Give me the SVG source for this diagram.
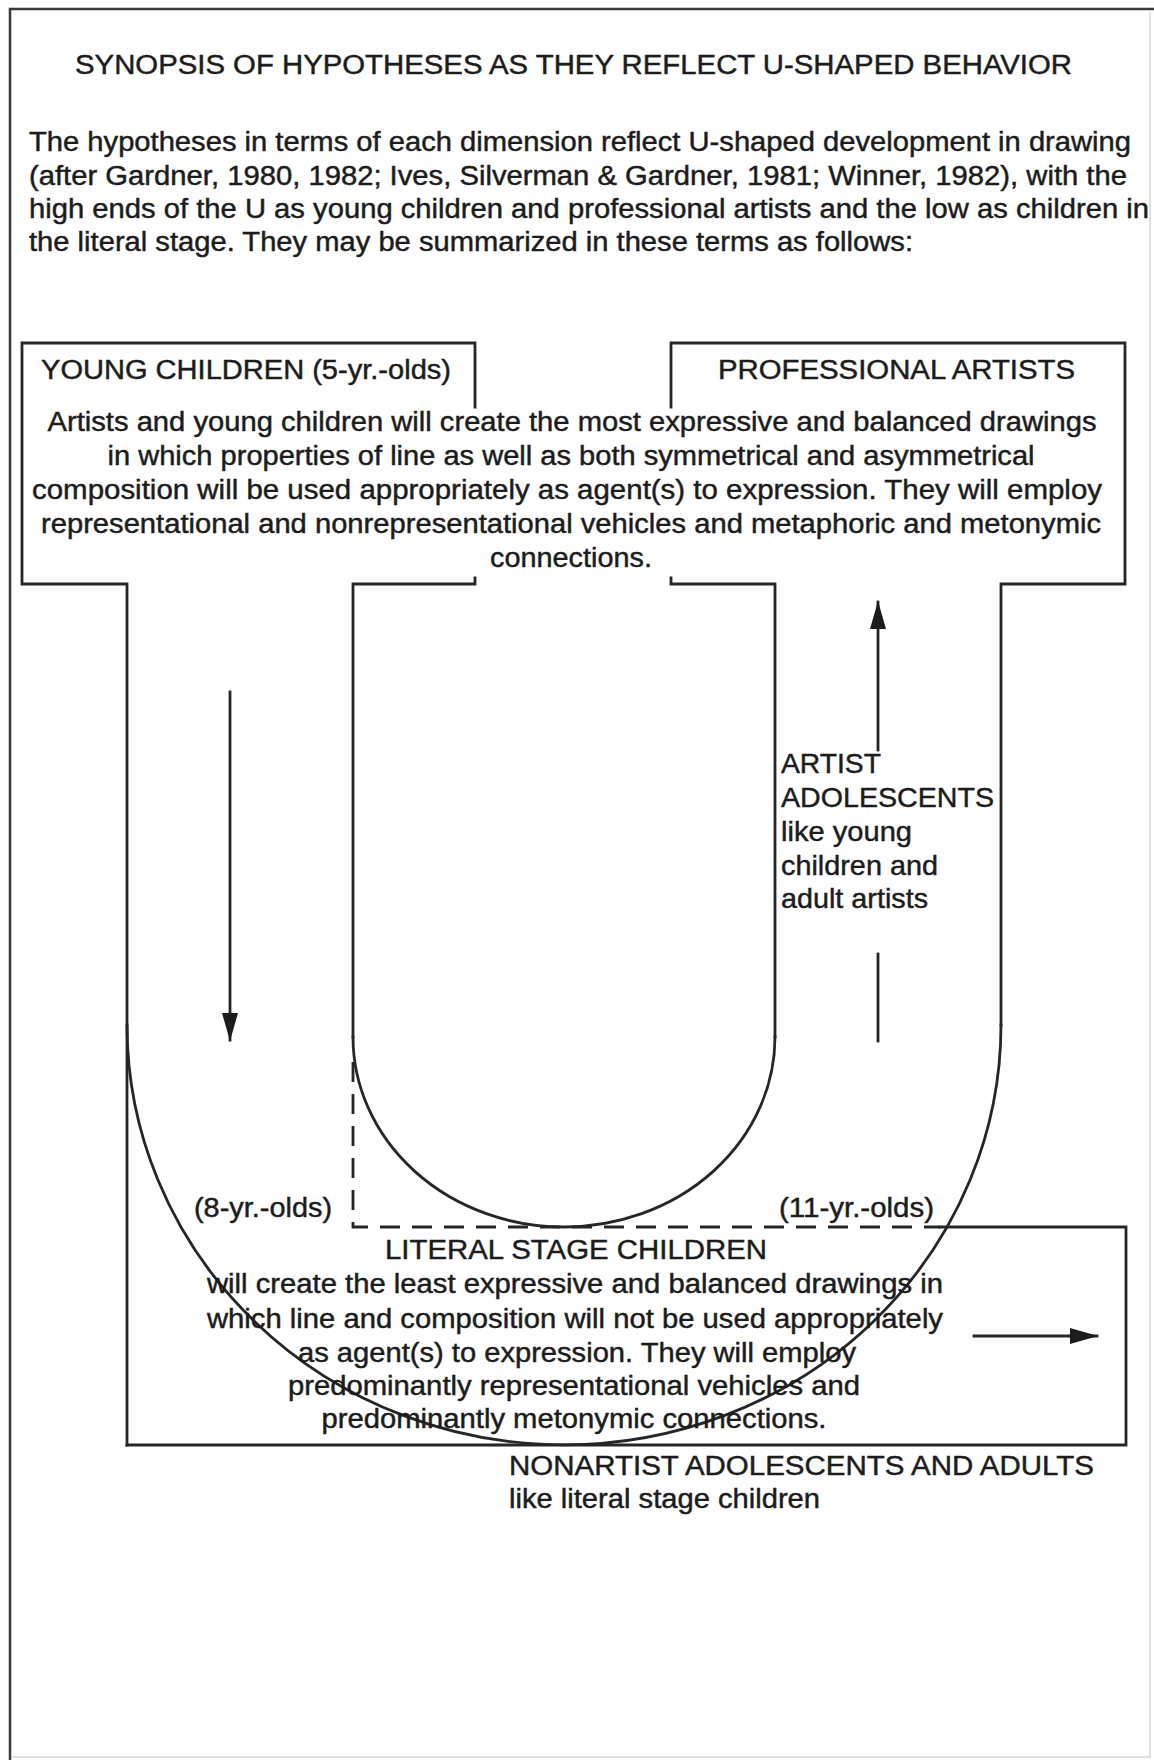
<svg xmlns="http://www.w3.org/2000/svg" width="1154" height="1760" viewBox="0 0 1154 1760">
<style>
  .ln { fill: none; stroke: #262626; stroke-width: 2.8; stroke-linecap: square; stroke-linejoin: miter; }
  .dash { fill: none; stroke: #262626; stroke-width: 2.8; stroke-dasharray: 20 12; }
  .frame { fill: none; stroke: #3a3a3a; stroke-width: 2.5; }
  .faint { fill: none; stroke: #d8d8d8; stroke-width: 1.5; }
  .t { font-family: "Liberation Sans", Arial, Helvetica, sans-serif; font-size: 27px; fill: #1c1c1c; stroke: #1c1c1c; stroke-width: 0.45; }
  .m { text-anchor: middle; }
  .a { font-size: 28px; }
</style>
<defs>
  <marker id="head" markerUnits="userSpaceOnUse" viewBox="0 0 28 16" refX="27" refY="8" markerWidth="28" markerHeight="16" orient="auto">
    <path d="M0,0 L28,8 L0,16 z" fill="#1c1c1c"/>
  </marker>
</defs>
<rect width="1154" height="1760" fill="#ffffff"/>

<g id="frame">
  <path class="frame" d="M10,1760 L10,9 L1154,9"/>
  <path class="faint" d="M1150,12 L1150,1757 L12,1757"/>
</g>

<g id="title">
  <text class="t" x="75" y="74" textLength="997" lengthAdjust="spacingAndGlyphs">SYNOPSIS OF HYPOTHESES AS THEY REFLECT U-SHAPED BEHAVIOR</text>
</g>

<g id="intro">
  <text class="t" x="29" y="151" textLength="1102" lengthAdjust="spacingAndGlyphs">The hypotheses in terms of each dimension reflect U-shaped development in drawing</text>
  <text class="t" x="29" y="185" textLength="1098" lengthAdjust="spacingAndGlyphs">(after Gardner, 1980, 1982; Ives, Silverman &amp; Gardner, 1981; Winner, 1982), with the</text>
  <text class="t" x="29" y="218" textLength="1120" lengthAdjust="spacingAndGlyphs">high ends of the U as young children and professional artists and the low as children in</text>
  <text class="t" x="29" y="251" textLength="884" lengthAdjust="spacingAndGlyphs">the literal stage. They may be summarized in these terms as follows:</text>
</g>

<g id="u-shape">
  <!-- young children box + outer left wall -->
  <path class="ln" d="M127,1445 L127,584 L22,584 L22,343 L475,343 L475,407"/>
  <!-- inner left wall with box bottom segment -->
  <path class="ln" d="M353,1037 L353,584 L475,584 L475,578"/>
  <!-- professional artists box + outer right wall -->
  <path class="ln" d="M671,407 L671,343 L1125,343 L1125,584 L1001,584 L1001,1025"/>
  <!-- inner right wall with box bottom segment -->
  <path class="ln" d="M671,578 L671,584 L775,584 L775,1037"/>
  <!-- outer arc -->
  <path class="ln" d="M127,1025 A437,420 0 0 0 1001,1025"/>
  <!-- inner arc -->
  <path class="ln" d="M353,1037 A211,190 0 0 0 775,1037"/>
  <!-- dashed literal-stage boundary -->
  <path class="dash" d="M353,1062 L353,1227 L940,1227"/>
  <!-- literal stage box -->
  <path class="ln" d="M940,1227 L1126,1227 L1126,1445 L127,1445"/>
</g>

<g id="young-children">
  <text class="t" x="41" y="379" textLength="410" lengthAdjust="spacingAndGlyphs">YOUNG CHILDREN (5-yr.-olds)</text>
</g>

<g id="professional-artists">
  <text class="t" x="718" y="379" textLength="357" lengthAdjust="spacingAndGlyphs">PROFESSIONAL ARTISTS</text>
</g>

<g id="shared-description">
  <text class="t m" x="572" y="431" textLength="1049" lengthAdjust="spacingAndGlyphs">Artists and young children will create the most expressive and balanced drawings</text>
  <text class="t m" x="571" y="465" textLength="927" lengthAdjust="spacingAndGlyphs">in which properties of line as well as both symmetrical and asymmetrical</text>
  <text class="t m" x="567" y="499" textLength="1070" lengthAdjust="spacingAndGlyphs">composition will be used appropriately as agent(s) to expression. They will employ</text>
  <text class="t m" x="571" y="533" textLength="1060" lengthAdjust="spacingAndGlyphs">representational and nonrepresentational vehicles and metaphoric and metonymic</text>
  <text class="t m" x="571" y="567" textLength="162" lengthAdjust="spacingAndGlyphs">connections.</text>
</g>

<g id="eight-year-olds">
  <text class="t" x="194" y="1217" textLength="138" lengthAdjust="spacingAndGlyphs">(8-yr.-olds)</text>
</g>

<g id="eleven-year-olds">
  <text class="t" x="779" y="1217" textLength="155" lengthAdjust="spacingAndGlyphs">(11-yr.-olds)</text>
</g>

<g id="artist-adolescents">
  <text class="t a" x="781" y="773" textLength="100" lengthAdjust="spacingAndGlyphs">ARTIST</text>
  <text class="t a" x="781" y="807" textLength="213" lengthAdjust="spacingAndGlyphs">ADOLESCENTS</text>
  <text class="t a" x="781" y="841" textLength="131" lengthAdjust="spacingAndGlyphs">like young</text>
  <text class="t a" x="781" y="875" textLength="157" lengthAdjust="spacingAndGlyphs">children and</text>
  <text class="t a" x="781" y="908" textLength="147" lengthAdjust="spacingAndGlyphs">adult artists</text>
</g>

<g id="literal-stage">
  <text class="t m" x="576" y="1259" textLength="382" lengthAdjust="spacingAndGlyphs">LITERAL STAGE CHILDREN</text>
  <text class="t m" x="575" y="1293" textLength="736" lengthAdjust="spacingAndGlyphs">will create the least expressive and balanced drawings in</text>
  <text class="t m" x="575" y="1328" textLength="736" lengthAdjust="spacingAndGlyphs">which line and composition will not be used appropriately</text>
  <text class="t m" x="577" y="1362" textLength="558" lengthAdjust="spacingAndGlyphs">as agent(s) to expression. They will employ</text>
  <text class="t m" x="574" y="1395" textLength="572" lengthAdjust="spacingAndGlyphs">predominantly representational vehicles and</text>
  <text class="t m" x="574" y="1428" textLength="505" lengthAdjust="spacingAndGlyphs">predominantly metonymic connections.</text>
</g>

<g id="nonartist">
  <text class="t" x="509" y="1475" textLength="585" lengthAdjust="spacingAndGlyphs">NONARTIST ADOLESCENTS AND ADULTS</text>
  <text class="t" x="509" y="1508" textLength="311" lengthAdjust="spacingAndGlyphs">like literal stage children</text>
</g>

<g id="connectors">
  <line class="ln" x1="230" y1="692" x2="230" y2="1040" marker-end="url(#head)"/>
  <line class="ln" x1="878" y1="750" x2="878" y2="602" marker-end="url(#head)"/>
  <line class="ln" x1="878" y1="954" x2="878" y2="1041"/>
  <line class="ln" x1="974" y1="1336" x2="1097" y2="1336" marker-end="url(#head)"/>
</g>
</svg>
